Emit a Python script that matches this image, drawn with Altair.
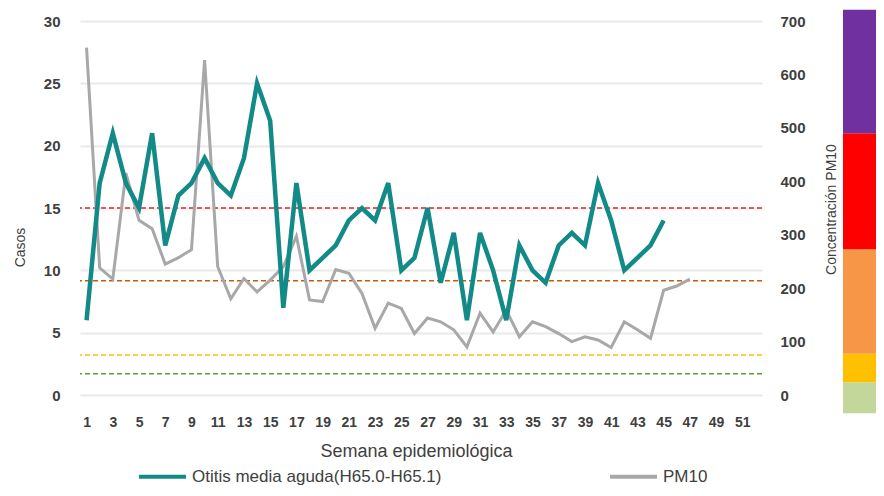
import altair as alt
import pandas as pd

# ---- data ----
weeks_casos = list(range(1, 46))
casos = [6, 17, 21, 17, 15, 21, 12, 16, 17, 19,
         17, 16, 19, 25, 22, 7, 17, 10, 11, 12,
         14, 15, 14, 17, 10, 11, 15, 9, 13, 6,
         13, 10, 6, 12, 10, 9, 12, 13, 12, 17,
         14, 10, 11, 12, 14]

weeks_pm10 = list(range(1, 48))
pm10 = [650, 238, 217, 415, 327, 311, 245, 257, 272, 627,
        240, 180, 218, 193, 215, 240, 297, 178, 175, 235,
        228, 190, 125, 172, 162, 115, 144, 137, 122, 90,
        153, 118, 159, 109, 137, 128, 115, 100, 109, 103,
        89, 137, 122, 106, 196, 204, 217]

serie_names = ["Otitis media aguda(H65.0-H65.1)", "PM10"]
serie_colors = ["#128a87", "#a8a8a8"]

threshold_values = [40, 75, 214, 350]          # PM10 units
threshold_colors = ["#63963a", "#ffc000", "#c55a11", "#e3262e"]

band_lo = [-34, 24, 77, 273, 490]
band_hi = [24, 77, 273, 490, 721]
band_colors = ["#c4d79b", "#ffc000", "#f79646", "#ff0000", "#7030a0"]

x_ticks = list(range(1, 52, 2))
casos_ticks = [0, 5, 10, 15, 20, 25, 30]
pm10_ticks = [0, 100, 200, 300, 400, 500, 600, 700]

# ---- tables ----
df_casos = pd.DataFrame({"week": weeks_casos, "value": casos, "serie": serie_names[0]})
df_pm10 = pd.DataFrame({"week": weeks_pm10, "value": pm10, "serie": serie_names[1]})
df_thr = pd.DataFrame({"v": threshold_values, "c": threshold_colors})
df_band = pd.DataFrame({"lo": band_lo, "hi": band_hi, "c": band_colors})

W, H = 682, 374
FONT = "Liberation Sans"
TXT = "#404040"

x_axis = alt.Axis(values=x_ticks, title="Semana epidemiológica", grid=False,
                  ticks=False, tickSize=0, domain=False, labelPadding=20,
                  labelFont=FONT, labelFontSize=14, labelFontWeight="bold",
                  labelColor=TXT, labelFlush=False, labelOverlap=False,
                  labelBound=False,
                  titleFont=FONT, titleFontSize=18, titleFontWeight="normal",
                  titleColor=TXT, titlePadding=13, titleX=336)
x_scale = alt.Scale(domain=[0.5, 52.5], nice=False, zero=False)

color_enc = alt.Color(
    "serie:N",
    scale=alt.Scale(domain=serie_names, range=serie_colors),
    legend=alt.Legend(title=None, orient="none", legendX=57, legendY=430,
                      direction="horizontal", symbolType="stroke",
                      symbolStrokeWidth=4, symbolSize=2200,
                      labelFont=FONT, labelFontSize=17, labelColor=TXT,
                      columnPadding=160, labelLimit=400),
)

line_casos = alt.Chart(df_casos).mark_line(strokeWidth=4.5).encode(
    x=alt.X("week:Q", scale=x_scale, axis=x_axis),
    y=alt.Y("value:Q", scale=alt.Scale(domain=[0, 30]),
            axis=alt.Axis(orient="left", values=casos_ticks, title="Casos",
                          grid=True, gridColor="#e9e9e9", gridWidth=2,
                          ticks=False, tickSize=0, domain=False, labelPadding=20,
                          labelFont=FONT, labelFontSize=15, labelFontWeight="bold",
                          labelColor=TXT, titleFont=FONT, titleFontSize=14,
                          titleFontWeight="normal", titleColor=TXT,
                          titleX=-60, titleY=226, titleBaseline="middle",
                          titleAlign="center")),
    color=color_enc,
)

line_pm10 = alt.Chart(df_pm10).mark_line(strokeWidth=3).encode(
    x=alt.X("week:Q", scale=x_scale, axis=x_axis),
    y=alt.Y("value:Q", scale=alt.Scale(domain=[0, 700]),
            axis=alt.Axis(orient="right", values=pm10_ticks,
                          title="Concentración PM10", grid=False,
                          ticks=False, tickSize=0, domain=False, labelPadding=18,
                          labelFont=FONT, labelFontSize=15, labelFontWeight="bold",
                          labelColor=TXT, titleFont=FONT, titleFontSize=14,
                          titleFontWeight="normal", titleColor=TXT,
                          titleAngle=270, titleX=69, titleY=188,
                          titleBaseline="middle", titleAlign="center")),
    color=color_enc,
)

rules = alt.Chart(df_thr).mark_rule(strokeWidth=1.5, strokeDash=[5, 3]).encode(
    y=alt.Y("v:Q", scale=alt.Scale(domain=[0, 700]), axis=None),
    stroke=alt.Stroke("c:N", scale=None),
)

bands = alt.Chart(df_band).mark_rect().encode(
    y=alt.Y("lo:Q", scale=alt.Scale(domain=[0, 700]), axis=None),
    y2="hi:Q",
    x=alt.value(W + 81),
    x2=alt.value(W + 120),
    fill=alt.Fill("c:N", scale=None),
)

chart = alt.layer(rules, line_pm10, line_casos, bands).resolve_scale(
    y="independent"
).properties(
    width=W, height=H,
    autosize=alt.AutoSizeParams(type="none"),
    padding={"left": 72, "top": 13, "right": 114, "bottom": 93},
    background="white",
).configure_view(stroke=None)

chart.save("out.html", embed_options={"renderer": "svg", "actions": False})
